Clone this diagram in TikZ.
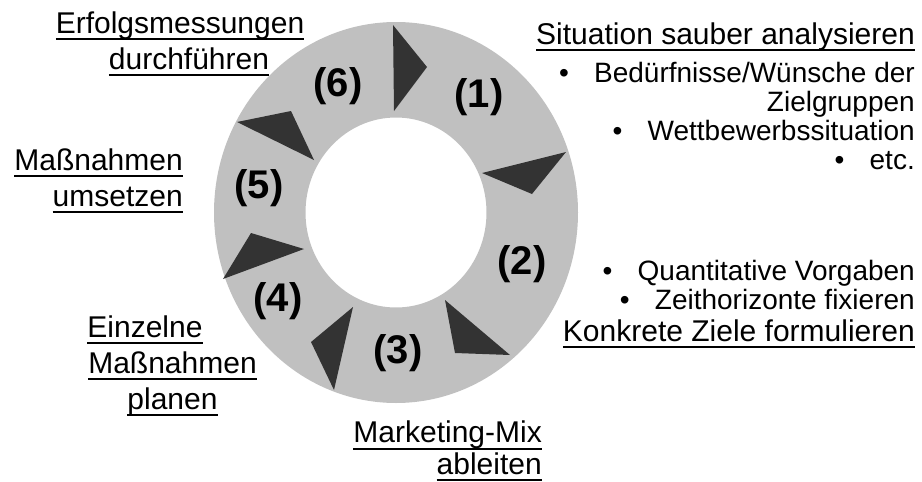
\documentclass[tikz,border=0pt]{standalone}
\usepackage{fontspec}
\setmainfont{Liberation Sans}
\usetikzlibrary{positioning}
\definecolor{ringgray}{HTML}{C0C0C0}
\definecolor{tipgray}{HTML}{333333}
\newsavebox{\ulbox}
\newcommand{\ulin}[1]{\sbox{\ulbox}{#1}\rlap{\rule[-0.22em]{\wd\ulbox}{0.06em}}\usebox{\ulbox}}
\tikzset{
    phase/.style = {inner sep=0pt, font=\fontsize{30}{36}\selectfont},
    bullets/.style = {inner sep=0pt, align=right, font=\fontsize{28}{29}\selectfont},
    num/.style = {inner sep=0pt, font=\fontsize{40}{44}\bfseries\selectfont},
    tip/.style = {fill=tipgray}
}

\begin{document}
\begin{tikzpicture}[x=1pt, y=-1pt]
    \useasboundingbox (0,0) rectangle (922,482);

    % ring
    \coordinate (c) at (396,212.5);
    \fill[ringgray, even odd rule] (c) ellipse (182 and 190.5) (c) ellipse (90.5 and 95);

    % arrow tips, clockwise
    \fill[tip] (393,25) -- (427,67) -- (394,111) -- cycle;
    \fill[tip] (482,173) -- (566,152) -- (532,194) -- cycle;
    \fill[tip] (445,300) -- (510,355) -- (455,353) -- cycle;
    \fill[tip] (353,307) -- (334,390) -- (311,342) -- cycle;
    \fill[tip] (304,249) -- (223,279) -- (251,233) -- cycle;
    \fill[tip] (237,122) -- (314,160) -- (291,111) -- cycle;

    % step numbers
    \node[num] (n1) at (479,97) {(1)};
    \node[num] (n2) at (522,264) {(2)};
    \node[num] (n3) at (398,353) {(3)};
    \node[num] (n4) at (278,301) {(4)};
    \node[num] (n5) at (259,188) {(5)};
    \node[num] (n6) at (338,86) {(6)};

    % (1)
    \node[phase, anchor=base east] (sit) at (915,44) {\ulin{Situation sauber analysieren}};
    \node[bullets, anchor=north east] (sitlist) at (915,61.7)
        {\strut•\hspace{0.9em}Bedürfnisse/Wünsche der\\
         \strut Zielgruppen\\
         \strut•\hspace{0.9em}Wettbewerbssituation\\
         \strut•\hspace{0.9em}etc.};

    % (2)
    \node[bullets, anchor=north east] (zielelist) at (915,259.7)
        {\strut•\hspace{0.9em}Quantitative Vorgaben\\
         \strut•\hspace{0.9em}Zeithorizonte fixieren};
    \node[phase, anchor=base east] (ziele) at (915,341) {\ulin{Konkrete Ziele formulieren}};

    % (3)
    \node[phase, font=\fontsize{30}{30}\selectfont, align=right, anchor=north east] (mix) at (542,421)
        {\strut\ulin{Marketing-Mix}\\ \strut\ulin{ableiten}};

    % (4)
    \node[phase, align=center, anchor=north] (einzel) at (172.5,311.8)
        {\strut\ulin{Einzelne}\hspace*{55pt}\\ \strut\ulin{Maßnahmen}\\ \strut\ulin{planen}};

    % (5)
    \node[phase, align=right, anchor=north east] (umsetzen) at (183,144.8)
        {\strut\ulin{Maßnahmen}\\ \strut\ulin{umsetzen}};

    % (6)
    \node[phase, align=center, anchor=north] (erfolg) at (180,7.8)
        {\strut\ulin{Erfolgsmessungen}\\ \strut\hspace*{18pt}\ulin{durchführen}};
\end{tikzpicture}
\end{document}
